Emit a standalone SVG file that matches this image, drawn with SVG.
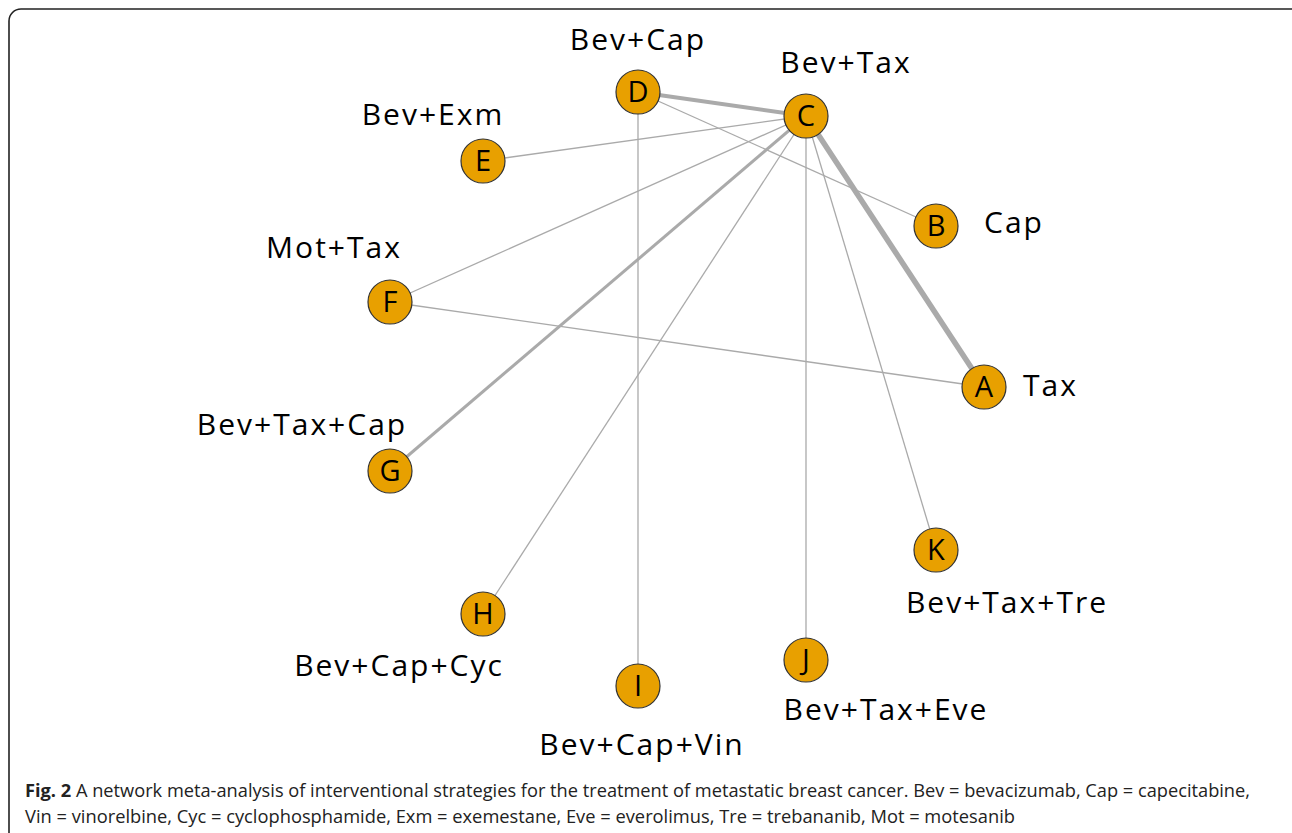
<svg xmlns="http://www.w3.org/2000/svg" width="1292" height="833" viewBox="0 0 1292 833">
<style>
.frame{fill:#fff;stroke:#222;stroke-width:1.6}
.e{stroke:#aaa;stroke-width:1.3;fill:none}
.e2{stroke:#aaa;stroke-width:3;fill:none}
.e3{stroke:#aaa;stroke-width:4;fill:none}
.e4{stroke:#aaa;stroke-width:5.5;fill:none}
.n circle{fill:#E8A000;stroke:#333;stroke-width:1.2}
.n text{font-family:"Open Sans","Noto Sans",sans-serif;fill:#000}
.ltr{font-size:29px;text-anchor:middle}
.lbl{font-size:30px;letter-spacing:2px}
.cap{font-family:"Open Sans","Noto Sans",sans-serif;font-size:17.5px;fill:#222}
</style>
<rect width="1292" height="833" fill="#fff"/>
<rect class="frame" x="9" y="9" width="1300" height="840" rx="12"/>
<g id="edges">
<line class="e3" x1="638" y1="92" x2="806" y2="116"/>
<line class="e4" x1="806" y1="116" x2="984" y2="387"/>
<line class="e2" x1="806" y1="116" x2="390" y2="471"/>
<line class="e" x1="638" y1="92" x2="936" y2="226"/>
<line class="e" x1="806" y1="116" x2="483" y2="161"/>
<line class="e" x1="806" y1="116" x2="390" y2="302"/>
<line class="e" x1="806" y1="116" x2="483" y2="614"/>
<line class="e" x1="806" y1="116" x2="806" y2="660"/>
<line class="e" x1="806" y1="116" x2="936" y2="550"/>
<line class="e" x1="638" y1="92" x2="638" y2="686"/>
<line class="e" x1="390" y1="302" x2="984" y2="387"/>
</g>
<g id="nodeA" class="n"><circle cx="984" cy="387" r="22"/><text class="ltr" x="984" y="397">A</text><text class="lbl" x="1023" y="396">Tax</text></g>
<g id="nodeB" class="n"><circle cx="936" cy="226" r="22"/><text class="ltr" x="936" y="236">B</text><text class="lbl" x="984" y="233">Cap</text></g>
<g id="nodeC" class="n"><circle cx="806" cy="116" r="22"/><text class="ltr" x="806" y="126">C</text><text class="lbl" x="846" y="73" text-anchor="middle">Bev+Tax</text></g>
<g id="nodeD" class="n"><circle cx="638" cy="92" r="22"/><text class="ltr" x="638" y="102">D</text><text class="lbl" x="638" y="50" text-anchor="middle">Bev+Cap</text></g>
<g id="nodeE" class="n"><circle cx="483" cy="161" r="22"/><text class="ltr" x="483" y="171">E</text><text class="lbl" x="433" y="125" text-anchor="middle">Bev+Exm</text></g>
<g id="nodeF" class="n"><circle cx="390" cy="302" r="22"/><text class="ltr" x="390" y="312">F</text><text class="lbl" x="334" y="258" text-anchor="middle">Mot+Tax</text></g>
<g id="nodeG" class="n"><circle cx="390" cy="471" r="22"/><text class="ltr" x="390" y="481">G</text><text class="lbl" x="302" y="435" text-anchor="middle">Bev+Tax+Cap</text></g>
<g id="nodeH" class="n"><circle cx="483" cy="614" r="22"/><text class="ltr" x="483" y="624">H</text><text class="lbl" x="399" y="676" text-anchor="middle">Bev+Cap+Cyc</text></g>
<g id="nodeI" class="n"><circle cx="638" cy="686" r="22"/><text class="ltr" x="638" y="696">I</text><text class="lbl" x="642" y="755" text-anchor="middle">Bev+Cap+Vin</text></g>
<g id="nodeJ" class="n"><circle cx="806" cy="660" r="22"/><text class="ltr" x="806" y="670">J</text><text class="lbl" x="886" y="720" text-anchor="middle">Bev+Tax+Eve</text></g>
<g id="nodeK" class="n"><circle cx="936" cy="550" r="22"/><text class="ltr" x="936" y="560">K</text><text class="lbl" x="1007" y="613" text-anchor="middle">Bev+Tax+Tre</text></g>
<g id="caption">
<text class="cap" x="25" y="797" textLength="1225" lengthAdjust="spacingAndGlyphs"><tspan font-weight="bold">Fig. 2</tspan> A network meta-analysis of interventional strategies for the treatment of metastatic breast cancer. Bev = bevacizumab, Cap = capecitabine,</text>
<text class="cap" x="25" y="823" textLength="990" lengthAdjust="spacingAndGlyphs">Vin = vinorelbine, Cyc = cyclophosphamide, Exm = exemestane, Eve = everolimus, Tre = trebananib, Mot = motesanib</text>
</g>
</svg>
